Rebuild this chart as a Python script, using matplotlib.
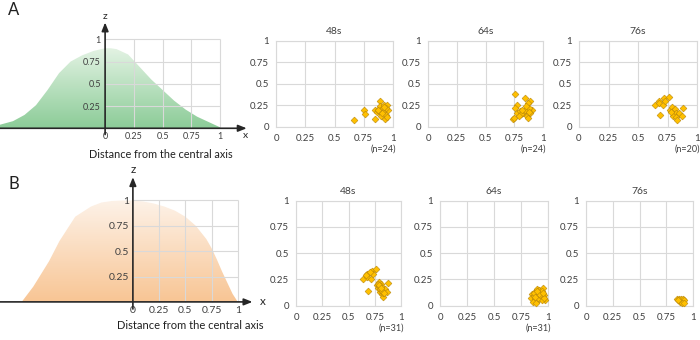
import matplotlib
matplotlib.use("Agg")
import matplotlib.pyplot as plt
import numpy as np
from matplotlib.colors import LinearSegmentedColormap

plt.rcParams["font.family"] = ["Lato", "DejaVu Sans"]

# profile curves (distance from central axis vs height)
a_curve_x = [-0.913, -0.8, -0.7, -0.6, -0.5, -0.4, -0.3, -0.2, -0.1, 0.0, 0.05, 0.1,
             0.2, 0.3, 0.4, 0.5, 0.6, 0.7, 0.8, 0.9, 1.0]
a_curve_y = [0.04, 0.08, 0.15, 0.26, 0.43, 0.62, 0.75, 0.82, 0.87, 0.90, 0.90, 0.89,
             0.83, 0.69, 0.55, 0.43, 0.31, 0.21, 0.13, 0.07, 0.01]
b_curve_x = [-1.06, -0.95, -0.8, -0.7, -0.55, -0.4, -0.3, -0.2, -0.1, 0.0, 0.1, 0.2,
             0.3, 0.4, 0.5, 0.6, 0.7, 0.75, 0.8, 0.85, 0.9, 0.95, 1.0]
b_curve_y = [0.0, 0.15, 0.40, 0.60, 0.84, 0.94, 0.98, 0.995, 1.0, 1.0, 0.99, 0.97,
             0.94, 0.90, 0.84, 0.75, 0.62, 0.53, 0.42, 0.30, 0.19, 0.08, 0.0]

ticks = [0, 0.25, 0.5, 0.75, 1]
tick_labels = ["0", "0.25", "0.5", "0.75", "1"]

# scatter data
a48_x = [0.67, 0.75, 0.76, 0.85, 0.85, 0.86, 0.87, 0.89, 0.89, 0.90, 0.90, 0.91,
         0.92, 0.93, 0.93, 0.94, 0.95, 0.95, 0.96, 0.88, 0.91, 0.94, 0.87, 0.92]
a48_y = [0.08, 0.20, 0.15, 0.20, 0.09, 0.17, 0.20, 0.30, 0.24, 0.20, 0.12, 0.21,
         0.25, 0.09, 0.20, 0.14, 0.25, 0.11, 0.19, 0.18, 0.16, 0.22, 0.19, 0.23]
a64_x = [0.76, 0.84, 0.77, 0.76, 0.89, 0.87, 0.86, 0.74, 0.77, 0.80, 0.83, 0.86,
         0.87, 0.90, 0.89, 0.87, 0.81, 0.84, 0.88, 0.79, 0.85, 0.82, 0.88, 0.75]
a64_y = [0.38, 0.33, 0.25, 0.22, 0.30, 0.27, 0.22, 0.09, 0.16, 0.18, 0.16, 0.13,
         0.10, 0.20, 0.16, 0.19, 0.15, 0.19, 0.22, 0.13, 0.24, 0.20, 0.17, 0.10]
a76_x = [0.64, 0.68, 0.68, 0.69, 0.71, 0.72, 0.73, 0.76, 0.77, 0.79, 0.80, 0.81,
         0.82, 0.80, 0.82, 0.83, 0.85, 0.87, 0.88, 0.78]
a76_y = [0.25, 0.30, 0.27, 0.14, 0.25, 0.33, 0.30, 0.35, 0.20, 0.23, 0.18, 0.21,
         0.16, 0.13, 0.11, 0.08, 0.16, 0.13, 0.22, 0.17]
b48_x = [0.64, 0.68, 0.68, 0.69, 0.71, 0.72, 0.73, 0.76, 0.77, 0.79, 0.80, 0.81,
         0.82, 0.80, 0.82, 0.83, 0.85, 0.87, 0.88, 0.78, 0.79, 0.81, 0.83, 0.80,
         0.78, 0.82, 0.84, 0.79, 0.81, 0.70, 0.67]
b48_y = [0.25, 0.30, 0.27, 0.14, 0.25, 0.33, 0.30, 0.35, 0.20, 0.23, 0.18, 0.21,
         0.16, 0.13, 0.11, 0.08, 0.16, 0.13, 0.22, 0.17, 0.19, 0.19, 0.12, 0.16,
         0.21, 0.14, 0.12, 0.20, 0.17, 0.32, 0.29]
b64_x = [0.85, 0.84, 0.88, 0.90, 0.92, 0.95, 0.91, 0.93, 0.96, 0.97, 0.90, 0.87,
         0.89, 0.91, 0.93, 0.94, 0.88, 0.86, 0.92, 0.95, 0.90, 0.89, 0.94, 0.91,
         0.93, 0.87, 0.96, 0.92, 0.90, 0.88, 0.95]
b64_y = [0.11, 0.07, 0.13, 0.16, 0.15, 0.17, 0.10, 0.08, 0.10, 0.05, 0.05, 0.09,
         0.12, 0.13, 0.12, 0.14, 0.06, 0.04, 0.06, 0.08, 0.09, 0.03, 0.05, 0.07,
         0.10, 0.12, 0.07, 0.11, 0.14, 0.08, 0.12]
b76_x = [0.85, 0.87, 0.89, 0.91, 0.92, 0.88, 0.90, 0.92, 0.86]
b76_y = [0.06, 0.06, 0.06, 0.06, 0.05, 0.04, 0.03, 0.03, 0.055]

GRID = "#d9d9d9"
TXT = "#404040"
AXC = "#262626"


def gradient_fill(ax, xs, ys, top_color, bottom_color):
    poly = ax.fill_between(xs, ys, 0, color="none", lw=0)
    path = poly.get_paths()[0]
    cmap = LinearSegmentedColormap.from_list("grad", [bottom_color, top_color])
    grad = np.linspace(0, 1, 256).reshape(-1, 1)
    im = ax.imshow(grad, cmap=cmap, origin="lower", aspect="auto", zorder=1,
                   extent=[min(xs), max(xs), 0, max(ys)])
    im.set_clip_path(path, transform=ax.transData)


def profile_panel(ax, xs, ys, xlim, ztop, xtip, top_c, bot_c, fs, lab_fs, lab_y, lab_x, xpos):
    gradient_fill(ax, xs, ys, top_c, bot_c)
    ax.vlines(ticks[1:], 0, 1, color=GRID, lw=0.8, zorder=2)
    ax.hlines(ticks[1:], 0, 1, color=GRID, lw=0.8, zorder=2)
    ax.set_xlim(*xlim)
    ax.set_ylim(-0.07, 1.33)
    for s in ax.spines.values():
        s.set_color("none")
    ax.spines["left"].set_position(("data", 0))
    ax.spines["bottom"].set_position(("data", 0))
    ax.set_xticks(ticks, tick_labels)
    ax.set_yticks(ticks[1:], tick_labels[1:])
    ax.tick_params(length=0, labelsize=fs, colors=TXT, pad=3)
    arrow = dict(arrowstyle="-|>,head_length=0.5,head_width=0.2", color=AXC, lw=1.2,
                 shrinkA=0, shrinkB=0)
    ax.annotate("", xy=(0, ztop), xytext=(0, -0.07), arrowprops=arrow,
                annotation_clip=False, zorder=3)
    ax.annotate("", xy=(xtip, 0), xytext=(xlim[0], 0), arrowprops=arrow,
                annotation_clip=False, zorder=3)
    ax.text(0, ztop + 0.02, "z", ha="center", va="bottom", fontsize=fs + 1, color=AXC)
    ax.text(xpos[0], xpos[1], "x", ha="center", va="center", fontsize=fs + 1, color=AXC)
    ax.text(lab_x, lab_y, "Distance from the central axis", ha="center", va="center",
            fontsize=lab_fs, color="#202020", clip_on=False)


def scatter_panel(ax, xs, ys, title, n_label, n_y):
    ax.scatter(xs, ys, marker="D", s=12, color="#FFC000", edgecolor="#B8860B",
               lw=0.4, zorder=3, clip_on=False)
    ax.set_xlim(0, 1)
    ax.set_ylim(0, 1)
    ax.set_xticks(ticks, tick_labels)
    ax.set_yticks(ticks, tick_labels)
    ax.grid(True, color=GRID, lw=0.8)
    ax.set_axisbelow(True)
    for s in ax.spines.values():
        s.set_color(GRID)
        s.set_linewidth(0.8)
    ax.tick_params(length=0, labelsize=7, colors=TXT, pad=5)
    ax.set_title(title, fontsize=7.5, color=TXT, pad=5)
    if n_label:
        ax.text(1.03, n_y, n_label, transform=ax.transAxes, ha="right", va="center",
                fontsize=6.5, color=TXT)


fig = plt.figure(figsize=(7, 3.4), dpi=100)

ax_a = fig.add_axes([0.0, 1 - 134.5 / 340, 249 / 700, (134.5 - 10) / 340])
profile_panel(ax_a, a_curve_x, a_curve_y, (-0.913, 1.25), 1.19, 1.23,
              "#e4f3e4", "#8ccc98", 6.5, 7.8, -0.30, 0.48, (1.22, -0.08))
ax_b = fig.add_axes([0.0, 1 - 309 / 340, 264 / 700, (309 - 167) / 340])
profile_panel(ax_b, b_curve_x, b_curve_y, (-1.267, 1.25), 1.23, 1.14,
              "#fdf2e8", "#f8c594", 7.5, 8, -0.23, 0.55, (1.24, 0.0))

pos_a = [(276, 117), (428, 115), (579, 118)]
pos_b = [(296, 105), (440, 108), (586, 107)]
a_sets = [(a48_x, a48_y, "48s", "(n=24)"), (a64_x, a64_y, "64s", "(n=24)"),
          (a76_x, a76_y, "76s", "(n=20)")]
b_sets = [(b48_x, b48_y, "48s", "(n=31)"), (b64_x, b64_y, "64s", "(n=31)"),
          (b76_x, b76_y, "76s", None)]

for (x0, w), (xs, ys, t, n) in zip(pos_a, a_sets):
    ax = fig.add_axes([x0 / 700, 1 - 126.7 / 340, w / 700, 86 / 340])
    scatter_panel(ax, xs, ys, t, n, -0.26)
for (x0, w), (xs, ys, t, n) in zip(pos_b, b_sets):
    ax = fig.add_axes([x0 / 700, 1 - 305.7 / 340, w / 700, 105 / 340])
    scatter_panel(ax, xs, ys, t, n, -0.21)

fig.text(8 / 700, 1 - 10 / 340, "A", fontsize=12, ha="left", va="center", color="#202020")
fig.text(8 / 700, 1 - 184 / 340, "B", fontsize=12, ha="left", va="center", color="#202020")

fig.savefig("out.png", dpi=100)
plt.close(fig)
